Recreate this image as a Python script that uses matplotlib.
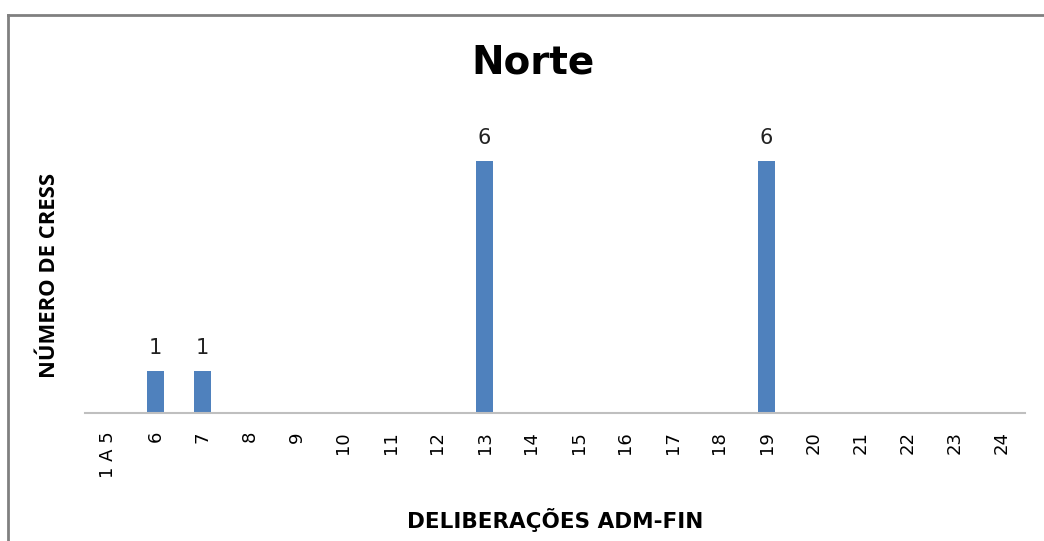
import matplotlib
matplotlib.use("Agg")
import matplotlib.pyplot as plt
from matplotlib.lines import Line2D

categories = ["1 A 5", "6", "7", "8", "9", "10", "11", "12", "13", "14", "15",
              "16", "17", "18", "19", "20", "21", "22", "23", "24"]
values = [0, 1, 1, 0, 0, 0, 0, 0, 6, 0, 0, 0, 0, 0, 6, 0, 0, 0, 0, 0]

W, H = 1044, 541
fig = plt.figure(figsize=(W / 100, H / 100), dpi=100)
ax = fig.add_axes([85 / W, 1 - 413 / H, (1025 - 85) / W, (413 - 119) / H])

x = list(range(len(categories)))
bars = ax.bar(x, values, width=0.38, color="#4F81BD")
for xi, v in zip(x, values):
    if v > 0:
        ax.text(xi, v + 0.3, str(v), ha="center", va="bottom", fontsize=15,
                color="#222222")

ax.set_xlim(-0.5, len(categories) - 0.5)
ax.set_ylim(0, 7)
ax.set_xticks(x)
ax.set_xticklabels(categories, rotation=90, fontsize=13, va="top")
ax.tick_params(axis="x", length=0, pad=13)
ax.set_yticks([])
for s in ["top", "right", "left"]:
    ax.spines[s].set_visible(False)
ax.spines["bottom"].set_color("#BFBFBF")
ax.spines["bottom"].set_linewidth(1.5)

fig.text(533 / W, 1 - 62 / H, "Norte", ha="center", va="center",
         fontsize=28, fontweight="bold")
fig.text(50 / W, 1 - 275 / H, "NÚMERO DE CRESS", rotation=90, ha="center",
         va="center", fontsize=15.8, fontweight="bold", family="Open Sans")
fig.text(555 / W, 1 - 520 / H, "DELIBERAÇÕES ADM-FIN", ha="center",
         va="center", fontsize=15.5, fontweight="bold")

fig.add_artist(Line2D([8 / W, 8 / W], [0, 1 - 15 / H], color="#808080",
                      lw=2, transform=fig.transFigure))
fig.add_artist(Line2D([8 / W, 1], [1 - 15 / H, 1 - 15 / H], color="#808080",
                      lw=2, transform=fig.transFigure))

fig.savefig("out.png", dpi=100)
